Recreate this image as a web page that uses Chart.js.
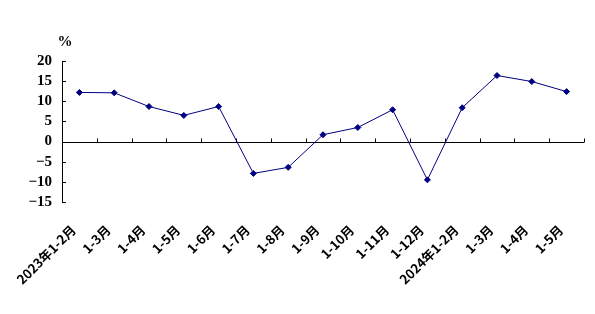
<!DOCTYPE html>
<html>
<head>
<meta charset="utf-8">
<script src="https://cdn.jsdelivr.net/npm/chart.js@4"></script>
<style>
  html, body { margin: 0; padding: 0; background: #fff; }
  #wrap { width: 595px; height: 314px; }
</style>
</head>
<body>
<div id="wrap"><canvas id="myChart"></canvas></div>
<script>
// 월별 누계 증감률 (%)
const categories = ['2023年1-2月', '1-3月', '1-4月', '1-5月', '1-6月', '1-7月', '1-8月', '1-9月',
  '1-10月', '1-11月', '1-12月', '2024年1-2月', '1-3月', '1-4月', '1-5月'];
const growth = [12.2, 12.1, 8.7, 6.5, 8.7, -7.9, -6.4, 1.7, 3.5, 7.9, -9.5, 8.4, 16.4, 14.9, 12.4];
const yTicks = [-15, -10, -5, 0, 5, 10, 15, 20];
const unitLabel = '%';

const ctx = document.getElementById('myChart');

// 0선 + 눈금(안쪽으로) + % 표시
const axisMarks = {
  id: 'axisMarks',
  beforeDatasetsDraw(chart) {
    const x = chart.scales.x, y = chart.scales.y, c = chart.ctx;
    const zero = Math.round(y.getPixelForValue(0)) + 0.5;
    c.save();
    c.strokeStyle = '#000';
    c.lineWidth = 1;
    c.beginPath();
    c.moveTo(x.left, zero); c.lineTo(x.right, zero);
    // x 눈금: 카테고리 경계
    const half = (x.getPixelForValue(1) - x.getPixelForValue(0)) / 2;
    for (let i = 0; i < categories.length; i++) {
      const px = Math.round(x.getPixelForValue(i) + half) + 0.5;
      c.moveTo(px, zero); c.lineTo(px, zero - 4);
    }
    // y 눈금
    yTicks.forEach(v => {
      const py = Math.round(y.getPixelForValue(v)) + 0.5;
      c.moveTo(y.right, py); c.lineTo(y.right + 4, py);
    });
    c.stroke();
    c.fillStyle = '#000';
    c.font = 'bold 15px "Liberation Serif", serif';
    c.textAlign = 'center';
    c.textBaseline = 'bottom';
    c.fillText(unitLabel, y.right + 3, chart.chartArea.top - 11);
    c.restore();
  }
};

new Chart(ctx, {
  type: 'line',
  data: {
    labels: categories,
    datasets: [{
      label: '增速',
      data: growth,
      borderColor: '#000080',
      backgroundColor: '#000080',
      borderWidth: 1,
      pointStyle: 'rectRot',
      pointRadius: 3,
      pointBorderWidth: 1,
      tension: 0
    }]
  },
  options: {
    responsive: true,
    maintainAspectRatio: false,
    animation: false,
    layout: { padding: { top: 61, right: 11, left: 0, bottom: 0 } },
    plugins: { legend: { display: false }, tooltip: { enabled: false } },
    scales: {
      x: {
        offset: true,
        grid: { display: false, drawTicks: false },
        border: { display: false },
        ticks: {
          autoSkip: false,
          minRotation: 45,
          maxRotation: 45,
          padding: 20,
          labelOffset: -6,
          color: '#000',
          font: { family: '"Noto Sans CJK SC", sans-serif', size: 13, weight: 'bold' }
        },
        afterFit: (s) => { s.height = 112; s.paddingLeft = 0; s.paddingRight = 0; }
      },
      y: {
        min: -15,
        max: 20,
        afterBuildTicks: (s) => { s.ticks = yTicks.map(v => ({ value: v })); },
        grid: { display: true, drawOnChartArea: false, drawTicks: false },
        border: { display: true, color: '#000', width: 1 },
        ticks: {
          autoSkip: false,
          padding: 10,
          color: '#000',
          font: { family: '"Liberation Serif", serif', size: 15, weight: 'bold' },
          callback: (v) => v < 0 ? '\u2212' + Math.abs(v) : String(v)
        },
        afterFit: (s) => { s.width = 62; }
      }
    }
  },
  plugins: [axisMarks]
});
</script>
</body>
</html>
